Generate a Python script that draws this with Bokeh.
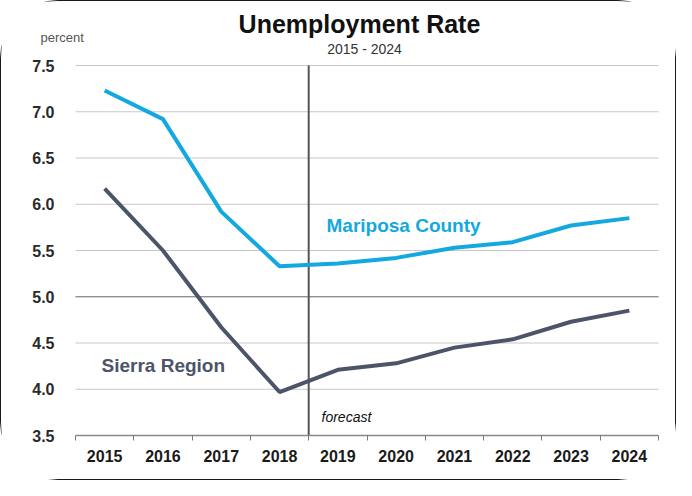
from bokeh.plotting import figure
from bokeh.models import FixedTicker, Label, LinearAxis
from bokeh.embed import file_html
from bokeh.resources import INLINE

years = ["2015", "2016", "2017", "2018", "2019", "2020", "2021", "2022", "2023", "2024"]
mariposa = [7.23, 6.92, 5.92, 5.33, 5.36, 5.42, 5.53, 5.59, 5.77, 5.85]
sierra = [6.17, 5.50, 4.67, 3.97, 4.21, 4.28, 4.45, 4.54, 4.73, 4.85]
y_ticks = [3.5, 4.0, 4.5, 5.0, 5.5, 6.0, 6.5, 7.0, 7.5]
forecast_start = "2019"
emphasis_tick = 5.0

xs = [i + 0.5 for i in range(len(years))]
bounds = list(range(len(years) + 1))
x_lo, x_hi = 0, len(years)
y_lo, y_hi = y_ticks[0], y_ticks[-1]

# canvas layout (pixels): plot area inside a 676x480 canvas
W, H = 676, 480
L, R, T, B = 74, 19, 64, 46
ppx = (W - L - R) / (x_hi - x_lo)
ppy = (H - T - B) / (y_hi - y_lo)

FONT = "Liberation Sans"

p = figure(width=W, height=H, output_backend="svg", toolbar_location=None, title=None,
           x_range=(x_lo - L / ppx, x_hi + R / ppx),
           y_range=(y_lo - B / ppy, y_hi + T / ppy),
           x_axis_location=None, y_axis_location=None,
           min_border=0, min_border_left=0, min_border_right=0,
           min_border_top=0, min_border_bottom=0)
p.styles = {"border": "1.5px solid #1a1a1a", "border-radius": "58px"}
p.outline_line_color = None
p.background_fill_color = "white"
p.border_fill_color = "white"
p.grid.visible = False
for r in list(p.center):
    if r.__class__.__name__ == "Grid":
        r.visible = False

# axes placed at the plot-area edges
xaxis = LinearAxis(fixed_location=y_lo, bounds=(x_lo, x_hi))
xaxis.ticker = FixedTicker(ticks=xs, minor_ticks=bounds)
xaxis.major_label_overrides = {x: y for x, y in zip(xs, years)}
xaxis.major_tick_line_color = None
xaxis.minor_tick_line_color = "#777777"
xaxis.minor_tick_out = 5
xaxis.minor_tick_in = 0
xaxis.axis_line_color = "#888888"
xaxis.axis_line_width = 1.5
xaxis.major_label_standoff = 8
xaxis.major_label_text_font = FONT
xaxis.major_label_text_font_style = "bold"
xaxis.major_label_text_font_size = "16px"
xaxis.major_label_text_color = "#1a1a1a"
p.add_layout(xaxis, "below")

yaxis = LinearAxis(fixed_location=x_lo, bounds=(y_lo, y_hi))
yaxis.ticker = FixedTicker(ticks=y_ticks)
yaxis.major_label_overrides = {v: f"{v:.1f}" for v in y_ticks}
yaxis.axis_line_color = None
yaxis.major_tick_line_color = None
yaxis.minor_tick_line_color = None
yaxis.major_label_standoff = 15
yaxis.major_label_text_font = FONT
yaxis.major_label_text_font_style = "bold"
yaxis.major_label_text_font_size = "16px"
yaxis.major_label_text_color = "#2a2a2a"
p.add_layout(yaxis, "left")

# horizontal grid lines across the plot area
grid_y = [v for v in y_ticks if v > y_lo]
p.segment(x0=[x_lo] * len(grid_y), y0=grid_y, x1=[x_hi] * len(grid_y), y1=grid_y,
          line_color="#c8c8c8", line_width=1)
p.segment(x0=[x_lo], y0=[emphasis_tick], x1=[x_hi], y1=[emphasis_tick],
          line_color="#7a7a7a", line_width=1)

# forecast divider at the boundary before the first forecast year
fx = years.index(forecast_start)
p.segment(x0=[fx], y0=[y_lo], x1=[fx], y1=[y_hi], line_color="#555555", line_width=2)

# series
p.line(xs, mariposa, line_color="#14a8e0", line_width=4)
p.line(xs, sierra, line_color="#4b5468", line_width=4)

# texts
p.add_layout(Label(x=4.871, y=7.954, text="Unemployment Rate", text_align="center",
                   text_baseline="middle", text_font=FONT, text_font_style="bold",
                   text_font_size="25px", text_color="#111111"))
p.add_layout(Label(x=4.957, y=7.673, text="2015 - 2024", text_align="center",
                   text_baseline="middle", text_font=FONT,
                   text_font_size="14px", text_color="#333333"))
p.add_layout(Label(x=-0.600, y=7.803, text="percent", text_align="left",
                   text_baseline="middle", text_font=FONT,
                   text_font_size="13px", text_color="#555555"))
p.add_layout(Label(x=4.305, y=5.77, text="Mariposa County", text_align="left",
                   text_baseline="middle", text_font=FONT, text_font_style="bold",
                   text_font_size="19px", text_color="#14a8e0"))
p.add_layout(Label(x=0.446, y=4.257, text="Sierra Region", text_align="left",
                   text_baseline="middle", text_font=FONT, text_font_style="bold",
                   text_font_size="19px", text_color="#4b5468"))
p.add_layout(Label(x=4.22, y=3.695, text="forecast", text_align="left",
                   text_baseline="middle", text_font=FONT, text_font_style="italic",
                   text_font_size="14px", text_color="#111111"))

open("out.html", "w").write(file_html(p, INLINE))
